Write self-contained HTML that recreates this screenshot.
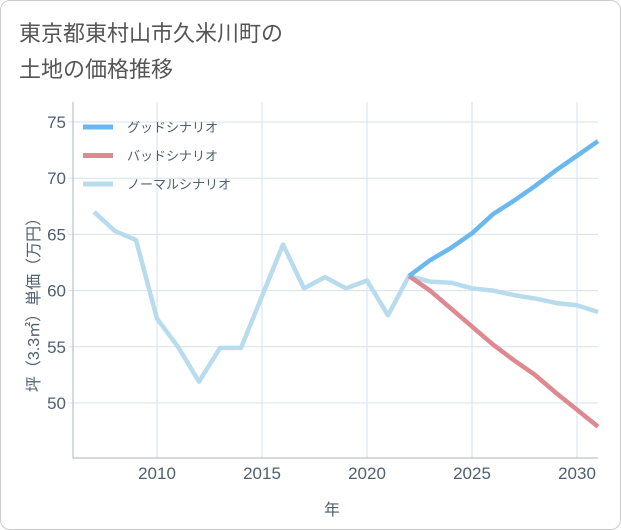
<!DOCTYPE html>
<html><head><meta charset="utf-8"><style>
body{margin:0;background:#fff;}
.wrap{position:relative;width:619px;height:528px;border:1px solid #ccc;border-radius:10px;overflow:hidden;background:#fff;}
svg{position:absolute;left:0;top:0;}
text{font-family:"Liberation Sans","Noto Sans CJK JP",sans-serif;}
</style></head><body>
<div class="wrap">
<svg id="chart" width="621" height="530">
<text x="18" y="40" font-size="22" fill="#555">東京都東村山市久米川町の</text>
<text x="18" y="76" font-size="22" fill="#555">土地の価格推移</text>
<g id="grid"></g><g id="series"></g><g id="axes"></g>
<text x="331" y="514" font-size="16" fill="#4f5f70" text-anchor="middle">年</text>
<text transform="translate(38,300) rotate(-90)" font-size="16" fill="#4f5f70" text-anchor="middle">坪（3.3㎡）単価（万円）</text>
<g id="legend"></g>
</svg></div>
<script>
const years=[2007,2008,2009,2010,2011,2012,2013,2014,2015,2016,2017,2018,2019,2020,2021,2022,2023,2024,2025,2026,2027,2028,2029,2030,2031];
const normal=[67,65.3,64.5,57.5,55,51.9,54.9,54.9,59.5,64.1,60.2,61.2,60.2,60.9,57.8,61.3,60.8,60.7,60.2,60,59.6,59.3,58.9,58.7,58.1];
const fYears=[2022,2023,2024,2025,2026,2027,2028,2029,2030,2031];
const good=[61.3,62.7,63.8,65.1,66.8,68,69.3,70.7,72,73.3];
const bad=[61.3,60,58.4,56.8,55.2,53.8,52.5,50.9,49.4,47.9];
const xTicks=[2010,2015,2020,2025,2030];
const yTicks=[50,55,60,65,70,75];
const names=["グッドシナリオ","バッドシナリオ","ノーマルシナリオ"];
const colors=["#6bb8ef","#de8890","#b8dcee"];
const X0=72,X1=597,Y0=101,Y1=457;
const x=v=>156+(v-2010)*21;
const y=v=>402-(v-50)*(281/25);
const NS="http://www.w3.org/2000/svg";
function mk(p,t,a){const e=document.createElementNS(NS,t);for(const k in a)e.setAttribute(k,a[k]);document.getElementById(p).appendChild(e);return e;}
xTicks.forEach(t=>{const l=mk('grid','line',{x1:x(t),x2:x(t),y1:Y0,y2:Y1,stroke:'#d5e3ec','stroke-width':1});


const tx=mk('axes','text',{x:x(t),y:478,'font-size':17,fill:'#4f5f70','text-anchor':'middle'});tx.textContent=t;

});
yTicks.forEach(t=>{const l=mk('grid','line',{x1:X0-5,x2:X1,y1:y(t),y2:y(t),stroke:'#d5e3ec','stroke-width':1});


const tx=mk('axes','text',{x:65,y:y(t)+6,'font-size':17,fill:'#4f5f70','text-anchor':'end'});tx.textContent=t;

});
const ax=mk('axes','path',{d:`M${X0} ${Y0}V${Y1}H${X1}`,fill:'none',stroke:'#aab4bc','stroke-width':1});


function line(xs,vs,c,n){const p=mk('series','path',{d:vs.map((v,i)=>(i?'L':'M')+x(xs[i])+' '+y(v)).join(''),fill:'none',stroke:c,'stroke-width':4.5,'stroke-linejoin':'round'});

}
line(years,normal,colors[2],'normal-scenario-line');
line(fYears,bad,colors[1],'bad-scenario-line');
line(fYears,good,colors[0],'good-scenario-line');
names.forEach((n,i)=>{const ly=126+i*28.5;
const l=mk('legend','line',{x1:82,x2:112,y1:ly,y2:ly,stroke:colors[i],'stroke-width':5});


const t=mk('legend','text',{x:126,y:ly+5,'font-size':13,fill:'#4f5f70'});t.textContent=n;

});
</script>
</body></html>
